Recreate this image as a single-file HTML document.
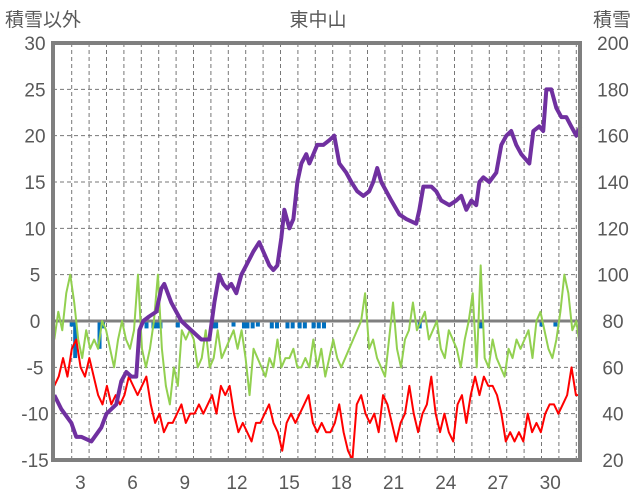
<!DOCTYPE html>
<html><head><meta charset="utf-8"><style>
body{margin:0;background:#fff}
svg{display:block;font-family:"Liberation Sans","Noto Sans CJK JP",sans-serif}
</style></head><body>
<svg id="c" width="636" height="501"></svg>
<script>
const purpleDays=[2.0,2.4,2.98,3.26,3.55,4.13,4.7,5.0,5.56,5.85,6.14,6.43,6.71,6.89,7.11,7.46,7.86,8.15,8.32,8.72,9.01,9.3,9.87,10.45,10.91,11.2,11.48,11.71,11.94,12.17,12.46,12.75,13.03,13.44,13.78,14.01,14.36,14.59,14.82,15.05,15.22,15.51,15.74,15.97,16.2,16.48,16.66,16.89,17.11,17.46,17.8,18.09,18.38,18.78,19.07,19.41,19.76,20.1,20.33,20.56,20.79,21.08,21.37,21.83,22.23,22.8,22.98,23.21,23.67,23.95,24.24,24.7,25.1,25.39,25.68,25.97,26.25,26.43,26.66,27.0,27.4,27.69,27.98,28.26,28.55,28.84,29.3,29.53,29.87,30.1,30.28,30.56,30.85,31.14,31.43,31.71,32.0,32.23];
const purpleSnow=[48,42,36,30,30,28,34,40,44,54,58,56,56,76,80,82,84,94,96,88,84,80,76,72,72,88,100,96,94,96,92,100,104,110,114,110,104,102,104,116,128,120,124,140,148,152,148,152,156,156,158,160,148,144,140,136,134,136,140,146,140,136,132,126,124,122,128,138,138,136,132,130,132,134,128,132,130,140,142,140,144,156,160,162,156,152,148,162,164,162,180,180,172,168,168,164,160,164];
const greenVals=[-2,1,-1,3,5,2,-2,-4,-1,-3,-2,-3,0,-1,-3,-5,-2,0,-2,-3,-1,5,-3,-5,-3,0,5,-3,-7,-9,-5,-7,-1,-2,-1,-2,-5,-4,-1,-5,-4,-1,-4,-3,-2,-1,-3,-1,-4,-8,-3,-4,-5,-6,-4,-5,-2,-5,-4,-4,-3,-5,-5,-4,-5,-2,-5,-3,-6,-4,-2,-4,-5,-4,-3,-2,-1,0,3,-3,-2,-4,-5,-6,-2,2,-3,-5,-2,-1,2,-1,0,1,-2,-1,0,-3,-4,-1,-2,-3,-5,-2,0,3,-5,6,-4,-5,-2,-4,-5,-6,-3,-4,-2,-3,-2,-1,-4,0,1,-1,-3,-4,-2,1,5,3,-1,0,-3];
const redVals=[-7,-6,-4,-6,-3,-2,-5,-6,-4,-6,-8,-9,-7,-9,-8,-9,-8,-6,-7,-8,-7,-6,-9,-11,-10,-12,-11,-11,-10,-9,-11,-10,-10,-9,-10,-9,-8,-10,-7,-8,-7,-10,-12,-11,-12,-13,-11,-11,-10,-9,-11,-12,-14,-11,-10,-11,-10,-9,-8,-11,-12,-11,-12,-12,-11,-9,-12,-14,-15,-9,-8,-10,-11,-10,-12,-8,-9,-11,-13,-11,-10,-7,-10,-12,-10,-9,-6,-10,-12,-10,-12,-13,-9,-8,-11,-8,-6,-8,-6,-7,-7,-8,-10,-13,-12,-13,-12,-13,-10,-12,-11,-12,-10,-9,-9,-10,-9,-8,-5,-8,-8];
const barDays=[3.0,3.2,4.6,4.8,7.3,7.7,7.9,8.1,9.1,11.1,11.3,12.3,12.9,13.1,13.4,13.7,14.5,14.8,15.4,15.7,16.1,16.4,16.9,17.2,17.5,23.0,26.5,30.0,30.8];
const barVals=[-0.6,-4,-3,-0.8,-0.8,-0.8,-0.8,-0.8,-0.7,-0.8,-0.8,-0.6,-0.8,-0.8,-0.8,-0.6,-0.8,-0.8,-0.8,-0.8,-0.8,-0.8,-0.8,-0.8,-0.8,-0.8,-0.8,-0.6,-0.6];
const xTicks=[3,6,9,12,15,18,21,24,27,30];
const yLeftTicks=[30,25,20,15,10,5,0,-5,-10,-15];
const yRightTicks=[200,180,160,140,120,100,80,60,40,20];

const NS="http://www.w3.org/2000/svg",svg=document.getElementById('c');
const L=53,R=580,T=43,B=460;
const x=d=>54.3+(d-2)*17.4;
const yl=v=>T+(30-v)*(B-T)/45;
const yr=v=>T+(200-v)*(B-T)/180;
function el(t,a,p){const e=document.createElementNS(NS,t);for(const k in a)e.setAttribute(k,a[k]);(p||svg).appendChild(e);return e;}
const grid=el('g',{});


for(let d=3;d<=32;d++){el('line',{x1:x(d),x2:x(d),y1:T,y2:B,stroke:'#777','stroke-width':1,'stroke-dasharray':'4,3'},grid);}
yLeftTicks.forEach(v=>{if(v<30&&v>-15&&v!==0)el('line',{x1:L,x2:R,y1:yl(v),y2:yl(v),stroke:'#777','stroke-width':1,'stroke-dasharray':'4,3'},grid);});
// bars
const bars=el('g',{});


barDays.forEach((d,i)=>{const b=el('rect',{x:x(d)-2,y:yl(0),width:4,height:yl(barVals[i])-yl(0),fill:'#0070c0'},bars);

});
el('line',{x1:L,x2:R,y1:yl(0),y2:yl(0),stroke:'#7f7f7f','stroke-width':3});
function even(vals,color,w,name){const n=vals.length;const pts=vals.map((v,i)=>[x(2+i*(32.23-2)/(n-1)),yl(v)]);
const p=el('polyline',{points:pts.map(q=>q.join(',')).join(' '),fill:'none',stroke:color,'stroke-width':w,'stroke-linejoin':'round'});

}
even(greenVals,'#92d050',2,'green-series');
even(redVals,'#ff0000',2,'red-series');
const pp=el('polyline',{points:purpleDays.map((d,i)=>x(d)+','+yr(purpleSnow[i])).join(' '),fill:'none',stroke:'#7030a0','stroke-width':4,'stroke-linejoin':'round'});


el('rect',{x:L,y:T,width:R-L,height:B-T,fill:'none',stroke:'#7f7f7f','stroke-width':4});
const st={fill:'#595959','font-size':19};
yLeftTicks.forEach(v=>{const t=el('text',Object.assign({x:35,y:yl(v)+7,'text-anchor':'middle'},st));t.textContent=v;

});
yRightTicks.forEach(v=>{const t=el('text',Object.assign({x:613,y:yr(v)+7,'text-anchor':'middle'},st));t.textContent=v;

});
xTicks.forEach(v=>{const t=el('text',Object.assign({x:x(v+0.5),y:489,'text-anchor':'middle'},st));t.textContent=v;

});
[[5,'start','積雪以外','y-left-title'],[318,'middle','東中山','chart-title'],[631,'end','積雪','y-right-title']].forEach(a=>{
const t=el('text',{x:a[0],y:26,'text-anchor':a[1],fill:'#595959','font-size':19});t.textContent=a[2];

});
</script>
</body></html>
